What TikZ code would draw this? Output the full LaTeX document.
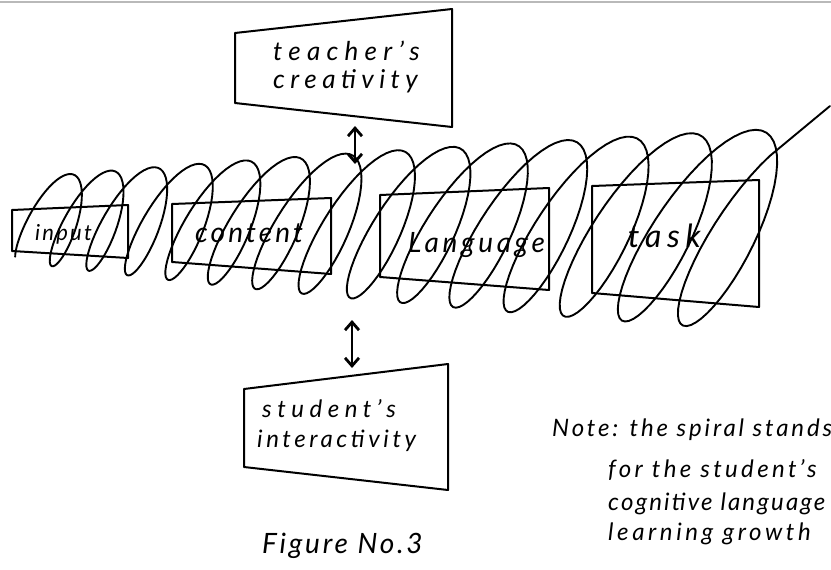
\documentclass[tikz,border=0pt]{standalone}
\usepackage{fontspec}
\setmainfont{Lato}
\usetikzlibrary{arrows.meta}
\newcommand\handfont[2]{\fontsize{#1}{#1}\selectfont\itshape\addfontfeature{LetterSpace=#2}}
\tikzset{
  boxline/.style={line width=2pt, line join=round},
  coil/.style={line width=1.9pt, line join=round, line cap=round},
  lbl/.style={inner sep=0pt, anchor=base west},
  dbl/.style={line width=2.8pt, {Straight Barb[length=8pt,width=14pt]}-{Straight Barb[length=8pt,width=14pt]}},
}
\begin{document}
\begin{tikzpicture}[x=1pt,y=-1pt]
\useasboundingbox (0,0) rectangle (831,570);
% scan edge at the top
\draw[gray!55, line width=1.4pt] (0,2) -- (831,2);

% box corners
\coordinate (i1) at (12,210);  \coordinate (i2) at (128,205); \coordinate (i3) at (128,258); \coordinate (i4) at (12,251);
\coordinate (c1) at (172,204); \coordinate (c2) at (331,198); \coordinate (c3) at (331,274); \coordinate (c4) at (172,262);
\coordinate (l1) at (380,195); \coordinate (l2) at (549,188); \coordinate (l3) at (549,290); \coordinate (l4) at (380,277);
\coordinate (k1) at (592,186); \coordinate (k2) at (759,180); \coordinate (k3) at (759,307); \coordinate (k4) at (592,293);
\coordinate (t1) at (235,33);  \coordinate (t2) at (452,9);   \coordinate (t3) at (452,127); \coordinate (t4) at (235,103);
\coordinate (s1) at (244,389); \coordinate (s2) at (448,364); \coordinate (s3) at (448,490); \coordinate (s4) at (244,467);

\draw[boxline] (i1) -- (i2) -- (i3) -- (i4) -- cycle;
\draw[boxline] (c1) -- (c2) -- (c3) -- (c4) -- cycle;
\draw[boxline] (l1) -- (l2) -- (l3) -- (l4) -- cycle;
\draw[boxline] (k1) -- (k2) -- (k3) -- (k4) -- cycle;
\draw[boxline] (t1) -- (t2) -- (t3) -- (t4) -- cycle;
\draw[boxline] (s1) -- (s2) -- (s3) -- (s4) -- cycle;

% the spiral
\coordinate (coilend) at (830,106);
\draw[coil] plot[domain=-0.42:13.88, samples=720, variable=\t]
  ({52.5+37.5*\t+0.98*\t*\t + cos(360*\t)*(17.5+2.5*\t) + sin(360*\t)*(16+1.8*\t)},
   {219+0.6*\t - cos(360*\t)*(45+4*\t)})
  -- (coilend);

% arrows
\coordinate (ta) at (355,126); \coordinate (tb) at (355,164);
\coordinate (sa) at (352,320); \coordinate (sb) at (352,368);
\draw[dbl] (ta) -- (tb);
\draw[dbl] (sa) -- (sb);

% labels
\node[lbl, font=\handfont{22}{10}] (inp) at (35,240) {input};
\node[lbl, font=\handfont{28}{11}] (cont) at (195,242) {content};
\node[lbl, font=\handfont{28}{13}] (lang) at (408,252) {Language};
\node[lbl, font=\handfont{32}{18}] (task) at (628,247) {task};
\node[lbl, font=\handfont{26}{24}] (teach1) at (273,60) {teacher’s};
\node[lbl, font=\handfont{26}{21}] (teach2) at (273,88) {creativity};
\node[lbl, font=\handfont{24}{23}] (stud1) at (262,417) {student’s};
\node[lbl, font=\handfont{24}{15}] (stud2) at (257,447) {interactivity};
\node[lbl, font=\handfont{28}{10}] (fig) at (262,553) {Figure No.3};
\node[lbl, font=\handfont{24}{12}] (note1) at (552,436) {Note: the spiral stands};
\node[lbl, font=\handfont{24}{14}] (note2) at (608,477) {for the student’s};
\node[lbl, font=\handfont{24}{9}] (note3) at (608,510) {cognitive language};
\node[lbl, font=\handfont{24}{15}] (note4) at (608,540) {learning growth};
\end{tikzpicture}
\end{document}
